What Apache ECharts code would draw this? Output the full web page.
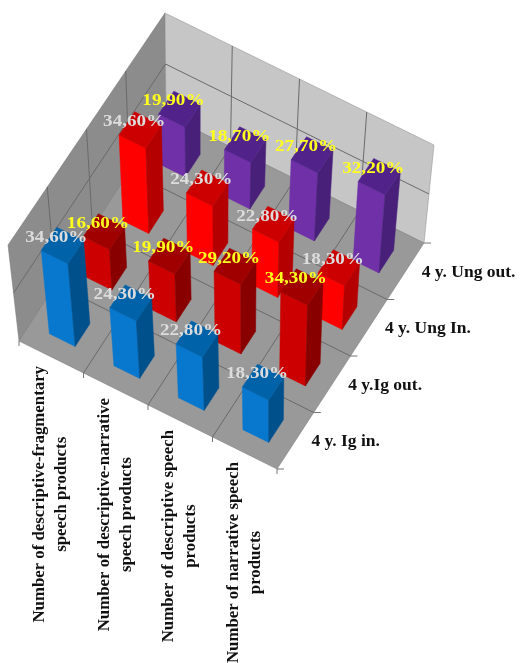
<!DOCTYPE html>
<html><head><meta charset="utf-8">
<style>html,body{margin:0;padding:0;background:#fff}#c{width:520px;height:663px}</style>
<script src="https://cdn.jsdelivr.net/npm/echarts@6/dist/echarts.min.js"></script>
</head><body><div id="c"></div>
<script>
const categories = ['Number of descriptive-fragmentary\nspeech products','Number of descriptive-narrative\nspeech products','Number of descriptive speech\nproducts','Number of narrative speech\nproducts'];
const rowNames = ['4 y. Ig in.','4 y.Ig out.','4 y. Ung In.','4 y. Ung out.'];
const valuesIgIn = [34.6,24.3,22.8,18.3];
const valuesIgOut = [16.6,19.9,29.2,34.3];
const valuesUngIn = [34.6,24.3,22.8,18.3];
const valuesUngOut = [19.9,18.7,27.7,32.2];
const valueMax = 40, valueStep = 20;

const rowValues = [valuesIgIn,valuesIgOut,valuesUngIn,valuesUngOut];
const rowFaces = [
  {front:'#0878cf',right:'#00508c',top:'#0062a8',label:'#dcdcdc'},
  {front:'#cc0000',right:'#880000',top:'#a00000',label:'#ffff1e'},
  {front:'#ff0000',right:'#b40000',top:'#cc0000',label:'#dcdcdc'},
  {front:'#7030a8',right:'#48207a',top:'#50228a',label:'#ffff1e'}
];
// projection: floor and top-plane corners of the 3D box
const F = {A:[19,341],B:[277,469],C:[424,243],D:[166,115]};
const T = {A:[8,245],B:[277,377],C:[434,145],D:[165,13]};
function plane(P,u,v){
  const ax=P.A[0]+(P.B[0]-P.A[0])*u, ay=P.A[1]+(P.B[1]-P.A[1])*u;
  const dx=P.D[0]+(P.C[0]-P.D[0])*u, dy=P.D[1]+(P.C[1]-P.D[1])*u;
  return [ax+(dx-ax)*v, ay+(dy-ay)*v];
}
function proj(u,v,h){
  const a=plane(F,u,v), b=plane(T,u,v);
  return [a[0]+(b[0]-a[0])*h, a[1]+(b[1]-a[1])*h];
}
const n=categories.length, m=rowNames.length;
const BAR=0.05;
const SERIF='"Liberation Serif","Times New Roman",serif';

function poly(points,fill,stroke,w){
  return {type:'polygon',shape:{points:points},silent:true,style:{fill:fill,stroke:stroke||fill,lineWidth:w===undefined?0.5:w}};
}
function line(a,b,c,w){
  return {type:'line',shape:{x1:a[0],y1:a[1],x2:b[0],y2:b[1]},silent:true,style:{stroke:c,lineWidth:w||1,fill:null}};
}
function frameItem(){
  const ch=[];
  const GRID='#6a6a6a';
  ch.push(poly([proj(0,0,0),proj(0,1,0),proj(0,1,1),proj(0,0,1)],'#8c8c8c','#777'));
  ch.push(poly([proj(0,1,0),proj(1,1,0),proj(1,1,1),proj(0,1,1)],'#c6c6c6','#8a8a8a'));
  ch.push(poly([proj(0,0,0),proj(1,0,0),proj(1,1,0),proj(0,1,0)],'#999999','#777'));
  for(let i=1;i<n;i++){
    ch.push(line(proj(i/n,0,0),proj(i/n,1,0),GRID));
    ch.push(line(proj(i/n,1,0),proj(i/n,1,1),GRID));
  }
  for(let j=1;j<m;j++){
    ch.push(line(proj(0,j/m,0),proj(1,j/m,0),GRID));
    ch.push(line(proj(0,j/m,0),proj(0,j/m,1),GRID));
  }
  for(let t=valueStep;t<valueMax;t+=valueStep){
    const h=t/valueMax;
    ch.push(line(proj(0,0,h),proj(0,1,h),GRID));
    ch.push(line(proj(0,1,h),proj(1,1,h),GRID));
  }
  // ticks on the floor edges
  for(let i=0;i<=n;i++){const p=proj(i/n,0,0);ch.push(line(p,[p[0],p[1]+5],'#777'));}
  for(let j=0;j<=m;j++){const p=proj(1,j/m,0);ch.push(line(p,[p[0]+7,p[1]],'#777'));}
  // category labels
  const ctx=document.createElement('canvas').getContext('2d');
  ctx.font='bold 16px '+SERIF;
  categories.forEach((c,i)=>{
    const p=proj((i+0.5)/n,0,0);
    const lines=c.split('\n');
    const len=ctx.measureText(lines[0]).width*1.05;
    ch.push({type:'text',x:p[0],y:p[1]+9+len/2,rotation:Math.PI/2,scaleX:1.05,silent:true,
      style:{text:c,fill:'#111',font:'bold 16px '+SERIF,align:'center',verticalAlign:'middle',lineHeight:22}});
  });
  rowNames.forEach((r,j)=>{
    const p=proj(1,(j+0.5)/m,0);
    ch.push({type:'text',x:p[0]+16,y:p[1]+1,silent:true,
      style:{text:r,fill:'#111',font:'bold 17.5px '+SERIF,align:'left',verticalAlign:'middle'}});
  });
  return {type:'group',children:ch};
}
function barItem(row){
  return function(params,api){
    const cs=params.coordSys;
    const pt=api.coord([api.value(0),api.value(1)]);
    const uc=(pt[0]-cs.x)/cs.width, h=(cs.y+cs.height-pt[1])/cs.height;
    const vc=(row+0.5)/m;
    const d=BAR;
    const u0=uc-d,u1=uc+d,v0=vc-d,v1=vc+d;
    const f=rowFaces[row];
    const ch=[
      poly([proj(u0,v0,0),proj(u1,v0,0),proj(u1,v0,h),proj(u0,v0,h)],f.front),
      poly([proj(u1,v0,0),proj(u1,v1,0),proj(u1,v1,h),proj(u1,v0,h)],f.right),
      poly([proj(u0,v0,h),proj(u1,v0,h),proj(u1,v1,h),proj(u0,v1,h)],f.top)
    ];
    const tc=proj(uc,vc,h);
    ch.push({type:'text',x:tc[0]-6,y:tc[1]-8,z2:100,scaleX:1.16,silent:true,
      style:{text:api.value(1).toFixed(2).replace('.',',')+'%',fill:f.label,font:'bold 16.5px '+SERIF,align:'center',verticalAlign:'middle'}});
    return {type:'group',children:ch};
  };
}
const series=[{type:'custom',coordinateSystem:'none',data:[0],renderItem:frameItem,silent:true,animation:false,z:1}];
for(let r=m-1;r>=0;r--){
  series.push({type:'custom',name:rowNames[r],coordinateSystem:'cartesian2d',silent:true,animation:false,z:2,
    encode:{x:0,y:1},data:rowValues[r].map((v,i)=>[i,v]),renderItem:barItem(r)});
}
const chart=echarts.init(document.getElementById('c'),null,{renderer:'canvas'});
chart.setOption({
  animation:false,backgroundColor:'#fff',
  grid:{left:0,right:0,top:0,bottom:0},
  xAxis:{type:'category',data:categories,show:false},
  yAxis:{type:'value',min:0,max:valueMax,interval:valueStep,show:false},
  series:series
});
</script></body></html>
